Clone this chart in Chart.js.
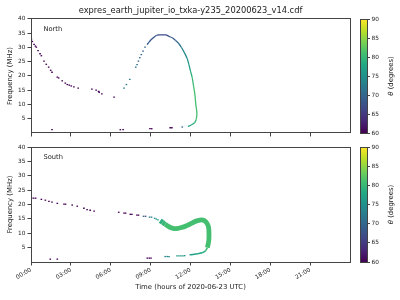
<!DOCTYPE html>
<html>
<head>
<meta charset="utf-8">
<script src="https://cdn.jsdelivr.net/npm/chart.js@4.4.1/dist/chart.umd.min.js"></script>
<style>
  html, body { margin: 0; padding: 0; background: #fff; }
  #wrap { position: relative; width: 400px; height: 300px; overflow: hidden; }
  #wrap canvas { position: absolute; }
</style>
</head>
<body>
<div id="wrap">
  <canvas id="northChart" width="400" height="140" style="left:0;top:0"></canvas>
  <canvas id="northBar" width="60" height="140" style="left:340px;top:0"></canvas>
  <canvas id="southChart" width="400" height="160" style="left:0;top:140px"></canvas>
  <canvas id="southBar" width="60" height="160" style="left:340px;top:140px"></canvas>
</div>
<script>
// Axes : heures de la journée, fréquence, angle theta
const timeTicks = [0, 3, 6, 9, 12, 15, 18, 21];
const timeLabels = ['00:00', '03:00', '06:00', '09:00', '12:00', '15:00', '18:00', '21:00'];
const freqTicks = [5, 10, 15, 20, 25, 30, 35, 40];
const thetaTicks = [60, 65, 70, 75, 80, 85, 90];

// Hémisphère nord : points isolés
const northDotHours = [0.03, 0.10, 0.23, 0.33, 0.40, 0.53, 0.68, 0.78, 0.98, 1.15, 1.33, 1.48, 1.58, 1.98, 2.08,
  2.35, 2.58, 2.73, 2.88, 3.03, 3.23, 3.55, 4.58, 4.90, 5.08, 5.13, 5.33, 6.25,
  1.58, 6.72, 6.93, 8.95, 9.08, 10.47, 10.60,
  7.00, 7.18, 7.43, 7.88, 7.98, 8.08, 8.18, 8.30, 8.43, 8.58,
  11.38];
const northDotFreq = [32.9, 32.1, 31.1, 30.5, 30.1, 28.9, 27.8, 27.1, 25.2, 24.1, 23.1, 22.0, 21.3, 19.6, 19.3,
  18.3, 17.5, 17.0, 16.8, 16.5, 16.2, 15.75, 15.4, 15.05, 14.6, 14.3, 13.75, 12.6,
  1.15, 1.15, 1.15, 1.5, 1.5, 1.85, 1.85,
  15.75, 17.0, 18.8, 23.1, 24.0, 25.2, 26.4, 27.5, 28.7, 30.1,
  2.1];
const northDotTheta = [60, 60, 60, 60, 60, 60, 60, 60, 60, 60, 60, 60, 60, 60, 60,
  60, 60, 60, 60, 60, 60, 60, 60, 60, 60, 60, 60, 60,
  60, 60, 60, 60, 60, 60, 60,
  72, 72, 72, 71, 71, 70, 70, 70, 69, 69,
  70];

// Hémisphère nord : arc continu
const northArcHours = [8.73, 8.88, 9.05, 9.25, 9.43, 9.63, 9.90, 10.15, 10.38, 10.63, 10.88, 11.13, 11.33,
  11.55, 11.75, 11.88, 12.00, 12.13, 12.23, 12.33, 12.40, 12.48, 12.43, 12.30, 12.05, 11.80];
const northArcFreq = [31.0, 31.9, 32.8, 33.6, 34.2, 34.4, 34.45, 34.4, 33.9, 33.4, 32.4, 31.3, 29.9,
  28.1, 26.1, 24.0, 21.7, 19.4, 16.5, 13.5, 10.0, 7.1, 4.8, 3.6, 2.8, 2.3];
const northArcTheta = [69, 68, 68, 68, 67, 67, 67, 67, 68, 69, 70, 72, 73,
  74, 76, 77, 79, 80, 81, 81, 81, 81, 80, 79, 77, 76];

// Hémisphère sud : points isolés
const southDotHours = [0.05, 0.20, 0.35, 0.78, 1.08, 1.35, 1.58, 1.98, 2.48, 2.60, 3.10, 3.48, 3.98, 4.22, 4.45,
  4.75, 6.60, 7.00, 7.12, 7.47, 7.59, 7.97, 8.09,
  8.47, 8.62, 8.92, 9.07, 9.30, 9.42, 9.55,
  1.45, 1.98, 8.75, 8.90, 9.03,
  10.10, 10.25, 10.38,
  10.98, 11.13, 11.28, 11.43, 11.56];
const southDotFreq = [22.2, 22.2, 22.2, 21.8, 21.5, 21.1, 20.8, 20.4, 20.1, 20.1, 19.8, 19.4, 18.7, 18.2, 18.0,
  17.7, 17.3, 17.0, 17.0, 16.6, 16.6, 16.3, 16.3,
  15.9, 15.9, 15.6, 15.6, 15.2, 14.95, 14.65,
  1.0, 1.0, 1.35, 1.35, 1.35,
  1.9, 1.9, 1.9,
  2.15, 2.15, 2.15, 2.15, 2.2];
const southDotTheta = [60, 60, 60, 60, 60, 60, 60, 60, 60, 60, 60, 60, 60, 60, 60,
  60, 60, 60, 60, 60, 60, 60, 60,
  68, 68, 73, 73, 75, 76, 77,
  60, 60, 60, 60, 60,
  74, 74, 74,
  76, 76, 76, 76, 76];

// Hémisphère sud : bande épaisse puis retour fin
const southBandHours = [9.72, 9.90, 10.10, 10.30, 10.55, 10.80, 11.05, 11.30, 11.55, 11.80, 12.05, 12.30, 12.55,
  12.80, 13.05, 13.20, 13.33, 13.38, 13.39, 13.38, 13.33, 13.27];
const southBandFreq = [14.35, 13.8, 13.1, 12.5, 11.9, 11.6, 11.7, 12.0, 12.3, 12.8, 13.4, 14.0, 14.4,
  14.65, 14.4, 13.7, 12.6, 11.2, 9.45, 7.7, 6.2, 5.0];
const southBandTheta = [79, 80, 81, 81, 81, 81, 81, 81, 81, 81, 81, 81, 81,
  81, 81, 81, 81, 81, 81, 81, 81, 80];
const southTailHours = [13.27, 13.15, 12.93, 12.55, 12.18, 11.93];
const southTailFreq = [5.0, 4.0, 3.3, 2.85, 2.6, 2.5];
const southTailTheta = [80, 79, 78, 77, 77, 76];

const FONT = '"DejaVu Sans", sans-serif';
const TEXT = '#222';
const AXIS = '#444';

// Palette viridis
const VIRIDIS = [[68, 1, 84], [72, 36, 117], [65, 68, 135], [53, 95, 141], [42, 120, 142], [33, 145, 140],
  [34, 168, 132], [68, 191, 112], [122, 209, 81], [189, 223, 38], [253, 231, 37]];
function viridis(theta) {
  const t = Math.min(1, Math.max(0, (theta - 60) / 30)) * 10;
  const i = Math.min(9, Math.floor(t)), f = t - i;
  const a = VIRIDIS[i], b = VIRIDIS[i + 1];
  return 'rgb(' + a.map((v, k) => Math.round(v + (b[k] - v) * f)).join(',') + ')';
}

const pts = (xs, ys) => xs.map((x, i) => ({ x: x, y: ys[i] }));

function dots(hours, freq, theta) {
  return {
    data: pts(hours, freq),
    showLine: false,
    pointStyle: 'line',
    pointRadius: 0.8,
    pointBorderWidth: 1.3,
    pointBorderColor: ctx => viridis(theta[ctx.dataIndex])
  };
}

function curve(hours, freq, theta, width) {
  return {
    data: pts(hours, freq),
    showLine: true,
    pointRadius: 0,
    borderWidth: width,
    tension: 0.2,
    borderColor: viridis(theta[0]),
    segment: { borderColor: ctx => viridis(theta[ctx.p0DataIndex]) }
  };
}

// Cadre + étiquette du panneau
const panelDeco = {
  id: 'panelDeco',
  afterDraw(chart, args, opts) {
    const { ctx, chartArea: a } = chart;
    ctx.save();
    ctx.strokeStyle = AXIS;
    ctx.lineWidth = 1;
    ctx.strokeRect(Math.floor(a.left) + 0.5, Math.floor(a.top) + 0.5,
      Math.round(a.right - a.left), Math.round(a.bottom - a.top));
    ctx.fillStyle = TEXT;
    ctx.font = '6.7px ' + FONT;
    ctx.textBaseline = 'middle';
    ctx.fillText(opts.text, a.left + 12.5, a.top + 10.5);
    ctx.restore();
  }
};

function makePanel(id, label, datasets, withTitle, withXLabels, padTop, xHeight) {
  return new Chart(document.getElementById(id), {
    type: 'scatter',
    data: { datasets: datasets },
    options: {
      responsive: false,
      animation: false,
      devicePixelRatio: 1,
      events: [],
      layout: { padding: { top: padTop, right: 50, left: 0, bottom: 0 } },
      plugins: {
        legend: { display: false },
        tooltip: { enabled: false },
        title: {
          display: withTitle,
          text: 'expres_earth_jupiter_io_txka-y235_20200623_v14.cdf',
          fullSize: false,
          color: TEXT,
          font: { family: FONT, size: 8.3, weight: 'normal' },
          padding: { top: 6, bottom: 3 }
        },
        panelDeco: { text: label }
      },
      scales: {
        x: {
          type: 'linear',
          min: 0,
          max: 24,
          afterBuildTicks: s => { s.ticks = timeTicks.map(v => ({ value: v })); },
          afterFit: s => { s.height = xHeight; },
          border: { display: false },
          grid: { display: true, drawOnChartArea: false, drawTicks: true, tickLength: 3.5, color: AXIS },
          ticks: {
            display: withXLabels,
            autoSkip: false,
            minRotation: 30,
            maxRotation: 30,
            padding: 1,
            color: TEXT,
            font: { family: FONT, size: 5.8 },
            callback: v => timeLabels[timeTicks.indexOf(v)]
          },
          title: {
            display: withXLabels,
            text: 'Time (hours of 2020-06-23 UTC)',
            color: TEXT,
            font: { family: FONT, size: 6.9 },
            padding: { top: 0, bottom: 8.5 }
          }
        },
        y: {
          min: 0,
          max: 40,
          afterBuildTicks: s => { s.ticks = freqTicks.map(v => ({ value: v })); },
          afterFit: s => { s.width = 31; },
          border: { display: false },
          grid: { display: true, drawOnChartArea: false, drawTicks: true, tickLength: 3.5, color: AXIS },
          ticks: { padding: 2, color: TEXT, font: { family: FONT, size: 5.8 } },
          title: {
            display: true,
            text: 'Frequency (MHz)',
            color: TEXT,
            font: { family: FONT, size: 6.9 },
            padding: { top: 6, bottom: 0 }
          }
        }
      }
    },
    plugins: [panelDeco]
  });
}

// Barre de couleur avec son libellé
function gradientFill(ctx) {
  const area = ctx.chart.chartArea;
  if (!area) return viridis(75);
  const g = ctx.chart.ctx.createLinearGradient(0, area.bottom, 0, area.top);
  VIRIDIS.forEach((c, i) => g.addColorStop(i / 10, 'rgb(' + c.join(',') + ')'));
  return g;
}

const cbarDeco = {
  id: 'cbarDeco',
  afterDraw(chart) {
    const { ctx, chartArea: a } = chart;
    ctx.save();
    ctx.strokeStyle = AXIS;
    ctx.lineWidth = 1;
    ctx.strokeRect(Math.floor(a.left) + 0.5, Math.floor(a.top) + 0.5,
      Math.round(a.right - a.left), Math.round(a.bottom - a.top));
    ctx.translate(51, (a.top + a.bottom) / 2);
    ctx.rotate(-Math.PI / 2);
    ctx.fillStyle = TEXT;
    ctx.textBaseline = 'middle';
    ctx.textAlign = 'left';
    const italic = 'italic 6.9px ' + FONT, normal = '6.9px ' + FONT;
    ctx.font = italic;
    const w1 = ctx.measureText('θ').width;
    ctx.font = normal;
    const w2 = ctx.measureText(' (degrees)').width;
    const x0 = -(w1 + w2) / 2;
    ctx.font = italic;
    ctx.fillText('θ', x0, 0);
    ctx.font = normal;
    ctx.fillText(' (degrees)', x0 + w1, 0);
    ctx.restore();
  }
};

function makeColorbar(id, padTop, padBottom) {
  return new Chart(document.getElementById(id), {
    type: 'bar',
    data: {
      labels: [''],
      datasets: [{
        data: [[60, 90]],
        backgroundColor: gradientFill,
        borderWidth: 0,
        barPercentage: 1,
        categoryPercentage: 1
      }]
    },
    options: {
      responsive: false,
      animation: false,
      devicePixelRatio: 1,
      events: [],
      layout: { padding: { left: 20, top: padTop, bottom: padBottom, right: 0 } },
      plugins: { legend: { display: false }, tooltip: { enabled: false } },
      scales: {
        x: { display: false },
        y: {
          position: 'right',
          min: 60,
          max: 90,
          afterBuildTicks: s => { s.ticks = thetaTicks.map(v => ({ value: v })); },
          afterFit: s => { s.width = 33; },
          border: { display: false },
          grid: { display: true, drawOnChartArea: false, drawTicks: true, tickLength: 3, color: AXIS },
          ticks: { padding: 1.5, color: TEXT, font: { family: FONT, size: 5.8 } }
        }
      }
    },
    plugins: [cbarDeco]
  });
}

makePanel('northChart', 'North', [
  dots(northDotHours, northDotFreq, northDotTheta),
  curve(northArcHours, northArcFreq, northArcTheta, 1.3)
], true, false, 0, 7);

makePanel('southChart', 'South', [
  dots(southDotHours, southDotFreq, southDotTheta),
  curve(southBandHours, southBandFreq, southBandTheta, 4.8),
  curve(southTailHours, southTailFreq, southTailTheta, 1.5)
], false, true, 7, 38);

makeColorbar('northBar', 19, 7);
makeColorbar('southBar', 7, 38);
</script>
</body>
</html>
